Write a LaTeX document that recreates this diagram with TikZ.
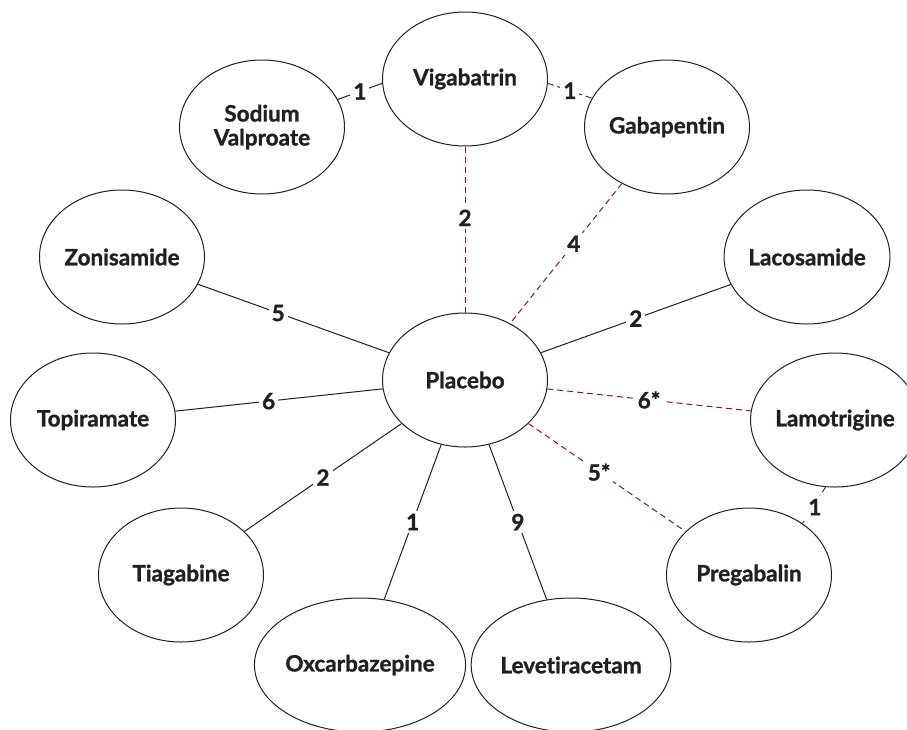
\documentclass[tikz,border=0pt]{standalone}
\usepackage{fontspec}
\setmainfont{Lato}[Ligatures=NoCommon, BoldFeatures={FakeBold=1.2}]
\usetikzlibrary{shapes.geometric}

\definecolor{inkgray}{HTML}{231F20}
\definecolor{linkred}{HTML}{7E1D1D}

\tikzset{
  drug/.style={ellipse, draw=inkgray, line width=1pt, minimum width=165pt,
    minimum height=134pt, inner sep=0pt, align=center, text=inkgray,
    font=\fontsize{22.5}{24}\selectfont\bfseries},
  direct/.style={draw=inkgray, line width=1pt},
  indirect/.style={draw=linkred, line width=1pt, dash pattern=on 6pt off 4pt},
  count/.style={fill=white, inner sep=3pt, text=inkgray,
    font=\fontsize{22.5}{24}\selectfont\bfseries}
}

\begin{document}
\begin{tikzpicture}[x=1pt, y=-1pt]
  \useasboundingbox (0,0) rectangle (907,729);
  \clip (0,0) rectangle (907,729);

  % drugs round the placebo hub
  \node[drug] (plac) at (465,380) {Placebo};
  \node[drug] (vig)  at (465,79)  {Vigabatrin};
  \node[drug] (sv)   at (262,127) {Sodium\\Valproate};
  \node[drug] (gab)  at (667,127) {Gabapentin};
  \node[drug] (lac)  at (807,257) {Lacosamide};
  \node[drug] (lam)  at (835,420) {Lamotrigine};
  \node[drug] (preg) at (749,575) {Pregabalin};
  \node[drug] (lev)  at (571,665) {Levetiracetam};
  \node[drug] (oxc)  at (360,665) {Oxcarbazepine};
  \node[drug] (tia)  at (181,575) {Tiagabine};
  \node[drug] (top)  at (93,420)  {Topiramate};
  \node[drug] (zon)  at (122,257) {Zonisamide};

  % trial links (solid) and dashed links with counts
  \draw[direct]   (sv.20)  -- (vig.183)  node[count, midway] {1};
  \draw[indirect] (vig.-3) -- (gab.159)  node[count, midway] {1};
  \draw[indirect] (vig)    -- (plac)     node[count, pos=.43] {2};
  \draw[indirect] (gab)    -- (plac)     node[count, pos=.43] {4};
  \draw[direct]   (plac)   -- (lac)      node[count, midway] {2};
  \draw[indirect] (plac)   -- (lam)      node[count, midway] {6*};
  \draw[indirect] (plac)   -- (preg)     node[count, pos=.45] {5*};
  \draw[indirect] (lam.-98) -- (preg.44) node[count, pos=.55, xshift=2pt] {1};
  \draw[direct]   (zon)    -- (plac)     node[count, pos=.42] {5};
  \draw[direct]   (top)    -- (plac)     node[count, pos=.45] {6};
  \draw[direct]   (tia)    -- (plac)     node[count, pos=.5] {2};
  \draw[direct]   (oxc)    -- (plac)     node[count, midway] {1};
  \draw[direct]   (lev)    -- (plac)     node[count, midway] {9};
\end{tikzpicture}
\end{document}
